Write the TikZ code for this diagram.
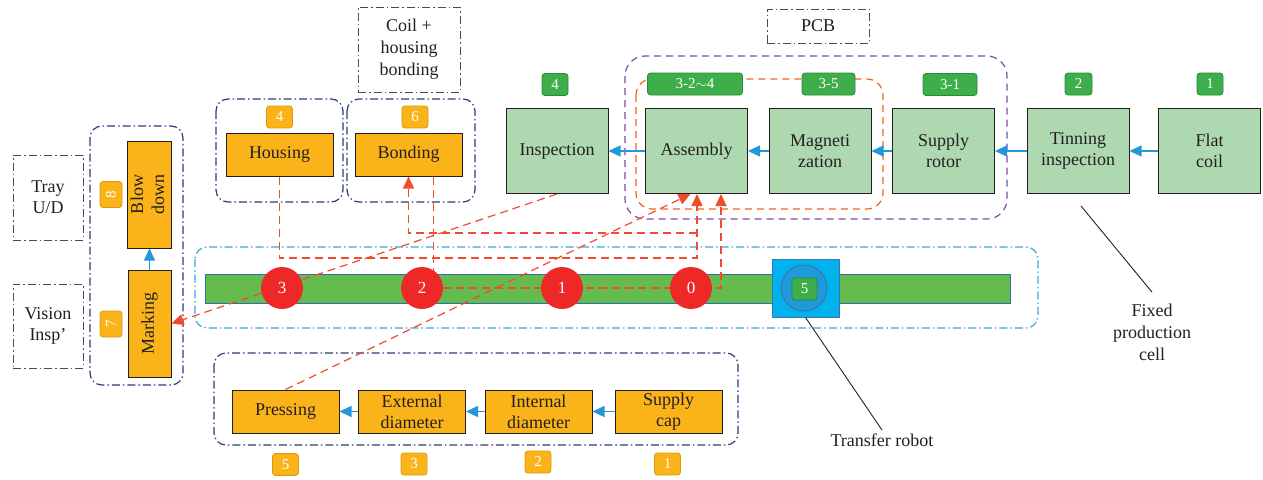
\documentclass[tikz,border=0pt]{standalone}
\usepackage{fontspec}
\setmainfont{Liberation Serif}
\usetikzlibrary{arrows.meta,calc}

\definecolor{ink}{HTML}{231F20}
\definecolor{boxgreen}{HTML}{AED9B0}
\definecolor{labgreen}{HTML}{3DAE4A}
\definecolor{labgreenb}{HTML}{2B8A3A}
\definecolor{boxorange}{HTML}{FBB31A}
\definecolor{laborangeb}{HTML}{DE9712}
\definecolor{flowblue}{HTML}{2298D8}
\definecolor{linkred}{HTML}{EF4B2C}
\definecolor{stred}{HTML}{EE2727}
\definecolor{navy}{HTML}{2B3C7A}
\definecolor{cyanline}{HTML}{33A9E1}
\definecolor{purpleline}{HTML}{7D4BA5}
\definecolor{orangeline}{HTML}{F26522}
\definecolor{railgreen}{HTML}{64BC4F}
\definecolor{railblue}{HTML}{2F6FAA}
\definecolor{robotblue}{HTML}{00B2EE}
\definecolor{robotinner}{HTML}{1F9AD6}
\definecolor{robotedge}{HTML}{3A75AE}
\definecolor{notegray}{HTML}{4A4A4A}

\pgfdeclarelayer{bg}
\pgfdeclarelayer{mid}
\pgfsetlayers{bg,mid,main}

\begin{document}
\begin{tikzpicture}[x=1pt,y=-1pt,
  txt/.style={font=\fontsize{18}{21}\selectfont, text=ink},
  gbox/.style={txt, draw=ink, fill=boxgreen, line width=1pt,
    minimum width=102pt, minimum height=85pt, align=center, inner sep=2pt},
  obox/.style={txt, draw=ink, fill=boxorange, line width=1pt,
    minimum width=107pt, minimum height=43pt, align=center, inner sep=1pt},
  vbox/.style={txt, draw=ink, fill=boxorange, line width=1pt,
    minimum width=43pt, minimum height=107pt, inner sep=1pt},
  tag/.style={font=\fontsize{15}{16}\selectfont, text=white, rounded corners=3pt,
    minimum height=22pt, minimum width=26pt, inner sep=0pt, line width=0.8pt},
  glab/.style={tag, fill=labgreen, draw=labgreenb},
  olab/.style={tag, fill=boxorange, draw=laborangeb},
  dashdot/.style={dash pattern=on 8pt off 3pt on 1.5pt off 3pt},
  note/.style={txt, draw=notegray, dashdot, line width=1pt, align=center},
  grpnavy/.style={draw=navy, dashdot, line width=1.2pt, rounded corners=12pt},
  grpcyan/.style={draw=cyanline, dashdot, line width=1.2pt, rounded corners=12pt},
  grppurple/.style={draw=purpleline, dash pattern=on 7pt off 5pt, line width=1.2pt, rounded corners=20pt},
  grporange/.style={draw=orangeline, dash pattern=on 7pt off 5pt, line width=1.2pt, rounded corners=16pt},
  flow/.style={draw=flowblue, line width=1.5pt, -{Triangle[length=12pt,width=11pt,fill=flowblue]}},
  link/.style={draw=linkred, line width=1.2pt, dash pattern=on 8pt off 5pt},
  tipped/.style={-{Triangle[length=12pt,width=11pt,fill=linkred]}},
  station/.style={circle, fill=stred, minimum size=42pt, inner sep=0pt,
    text=white, font=\fontsize{17}{17}\selectfont},
  leader/.style={draw=ink, line width=0.9pt}
]
\useasboundingbox (0,0) rectangle (1263,479);

% ---------- fixed production cell ----------
\node[gbox] (insp)  at (557,151)    {Inspection};
\node[gbox] (asm)   at (696.5,151)  {Assembly};
\node[gbox] (mag)   at (820,151)    {Magneti\\zation};
\node[gbox] (rotor) at (943.5,151)  {Supply\\rotor};
\node[gbox] (tin)   at (1078,151)   {Tinning\\inspection};
\node[gbox] (flat)  at (1209.5,151) {Flat\\coil};

\node[glab] (g4)  at (555,84.5)  {4};
\node[glab, minimum width=95pt] (g324) at (695,84) {3-2$\sim$4};
\node[glab, minimum width=53pt] (g35)  at (828.5,84) {3-5};
\node[glab, minimum width=54pt] (g31)  at (950,84.5) {3-1};
\node[glab, minimum width=27pt] (g2)   at (1078.5,84) {2};
\node[glab] (g1)  at (1210,84) {1};

\node[note, minimum width=102pt, minimum height=34pt] (pcb) at (818,26) {PCB};

\draw[flow] (flat) -- (tin);
\draw[flow] (tin) -- (rotor);
\draw[flow] (rotor) -- (mag);
\draw[flow] (mag) -- (asm);
\draw[flow] (asm) -- (insp);

\node[txt, align=center, font=\fontsize{18}{22}\selectfont] (fixed) at (1152,332) {Fixed\\production\\cell};
\coordinate (fc) at (1081,206);
\draw[leader] (fc) -- ([yshift=8pt]fixed.north);

% ---------- housing and bonding ----------
\node[obox] (housing) at (279.5,154.5) {Housing};
\node[obox] (bonding) at (408.5,154.5) {Bonding};
\node[olab] (o4) at (279.5,117) {4};
\node[olab] (o6) at (415,117) {6};
\node[note, minimum width=102pt, minimum height=85pt, font=\fontsize{18}{22}\selectfont] (cohb) at (409,49.5) {Coil +\\housing\\bonding};

% ---------- marking / blow down ----------
\node[vbox] (blow) at (149.5,194.5) {\rotatebox{90}{\begin{tabular}{@{}c@{}}Blow\\down\end{tabular}}};
\node[vbox] (marking) at (149.5,323.5) {\rotatebox{90}{Marking}};
\node[olab, minimum width=22pt, minimum height=26pt] (o8) at (111,194.5) {\rotatebox{90}{8}};
\node[olab, minimum width=22pt, minimum height=26pt] (o7) at (111,324) {\rotatebox{90}{7}};
\node[note, minimum width=70pt, minimum height=85pt] (tray) at (48,197.5) {Tray\\U/D};
\node[note, minimum width=70pt, minimum height=84pt] (vision) at (48,326) {Vision\\Insp'};
\draw[flow] (marking) -- (blow);

% ---------- cap line ----------
\node[obox] (press) at (285.5,411.5) {Pressing};
\node[obox] (ext)   at (412,411.5)   {External\\diameter};
\node[obox] (int)   at (538.5,411.5) {Internal\\diameter};
\node[obox] (cap)   at (668.5,411.5) {Supply\\cap};
\node[olab] (o5b) at (285.5,464.5) {5};
\node[olab] (o3b) at (414,464)     {3};
\node[olab] (o2b) at (538,462)     {2};
\node[olab] (o1b) at (667.5,464)   {1};
\draw[flow] (cap) -- (int);
\draw[flow] (int) -- (ext);
\draw[flow] (ext) -- (press);

% ---------- transfer line ----------
\node[station] (st3) at (282,288) {3};
\node[station] (st2) at (422,288) {2};
\node[station] (st1) at (562,288) {1};
\node[station] (st0) at (691,288) {0};

\node[draw=robotedge, fill=robotblue, line width=1pt, minimum width=67pt,
      minimum height=58pt, inner sep=0pt] (robot) at (805.5,288) {};
\node[circle, draw=robotedge, fill=robotinner, line width=1pt,
      minimum size=46pt, inner sep=0pt] (hub) at (804,288) {};
\node[glab, minimum width=25pt] (g5) at (804.5,289) {5};

\node[txt] (trl) at (882,440) {Transfer robot};
\draw[leader] (robot.south) -- (trl.north);

% ---------- group outlines and rail ----------
\begin{pgfonlayer}{bg}
  \draw[grpnavy] (90,126) rectangle (183,385);
  \draw[grpnavy] (216,99) rectangle (343,202);
  \draw[grpnavy] (347,99) rectangle (475,202);
  \draw[grpnavy] (214,353) rectangle (738,445);
  \draw[grpcyan] (195,247) rectangle (1038,328);
  \draw[grppurple] (625,56) rectangle (1007,219);
  \draw[grporange] (636,79) rectangle (883,209);
  \node[draw=railblue, fill=railgreen, line width=1pt, minimum width=805pt,
        minimum height=29pt, inner sep=0pt] (rail) at (607.5,288.5) {};
\end{pgfonlayer}

% ---------- material flow links ----------
\begin{pgfonlayer}{mid}
  \coordinate (j1) at (697,258);
  \coordinate (j2) at (697,233);
  \coordinate (j3) at (721,288);
  \coordinate (bs2) at ([xshift=25pt]bonding.south);
  \draw[link, tipped] (housing.south) |- (j1) -- (asm.south -| j1);
  \draw[link, tipped] (j2) -| (bonding.south);
  \draw[link] (bs2) -- (bs2 |- st2);
  \draw[link, tipped] (st2) -- (j3) -- (asm.south -| j3);
  \draw[link, tipped] (insp.south) -- (marking.east);
  \draw[link, tipped] (press.north) -- ([xshift=-6pt]asm.south);
\end{pgfonlayer}
\end{tikzpicture}
\end{document}
